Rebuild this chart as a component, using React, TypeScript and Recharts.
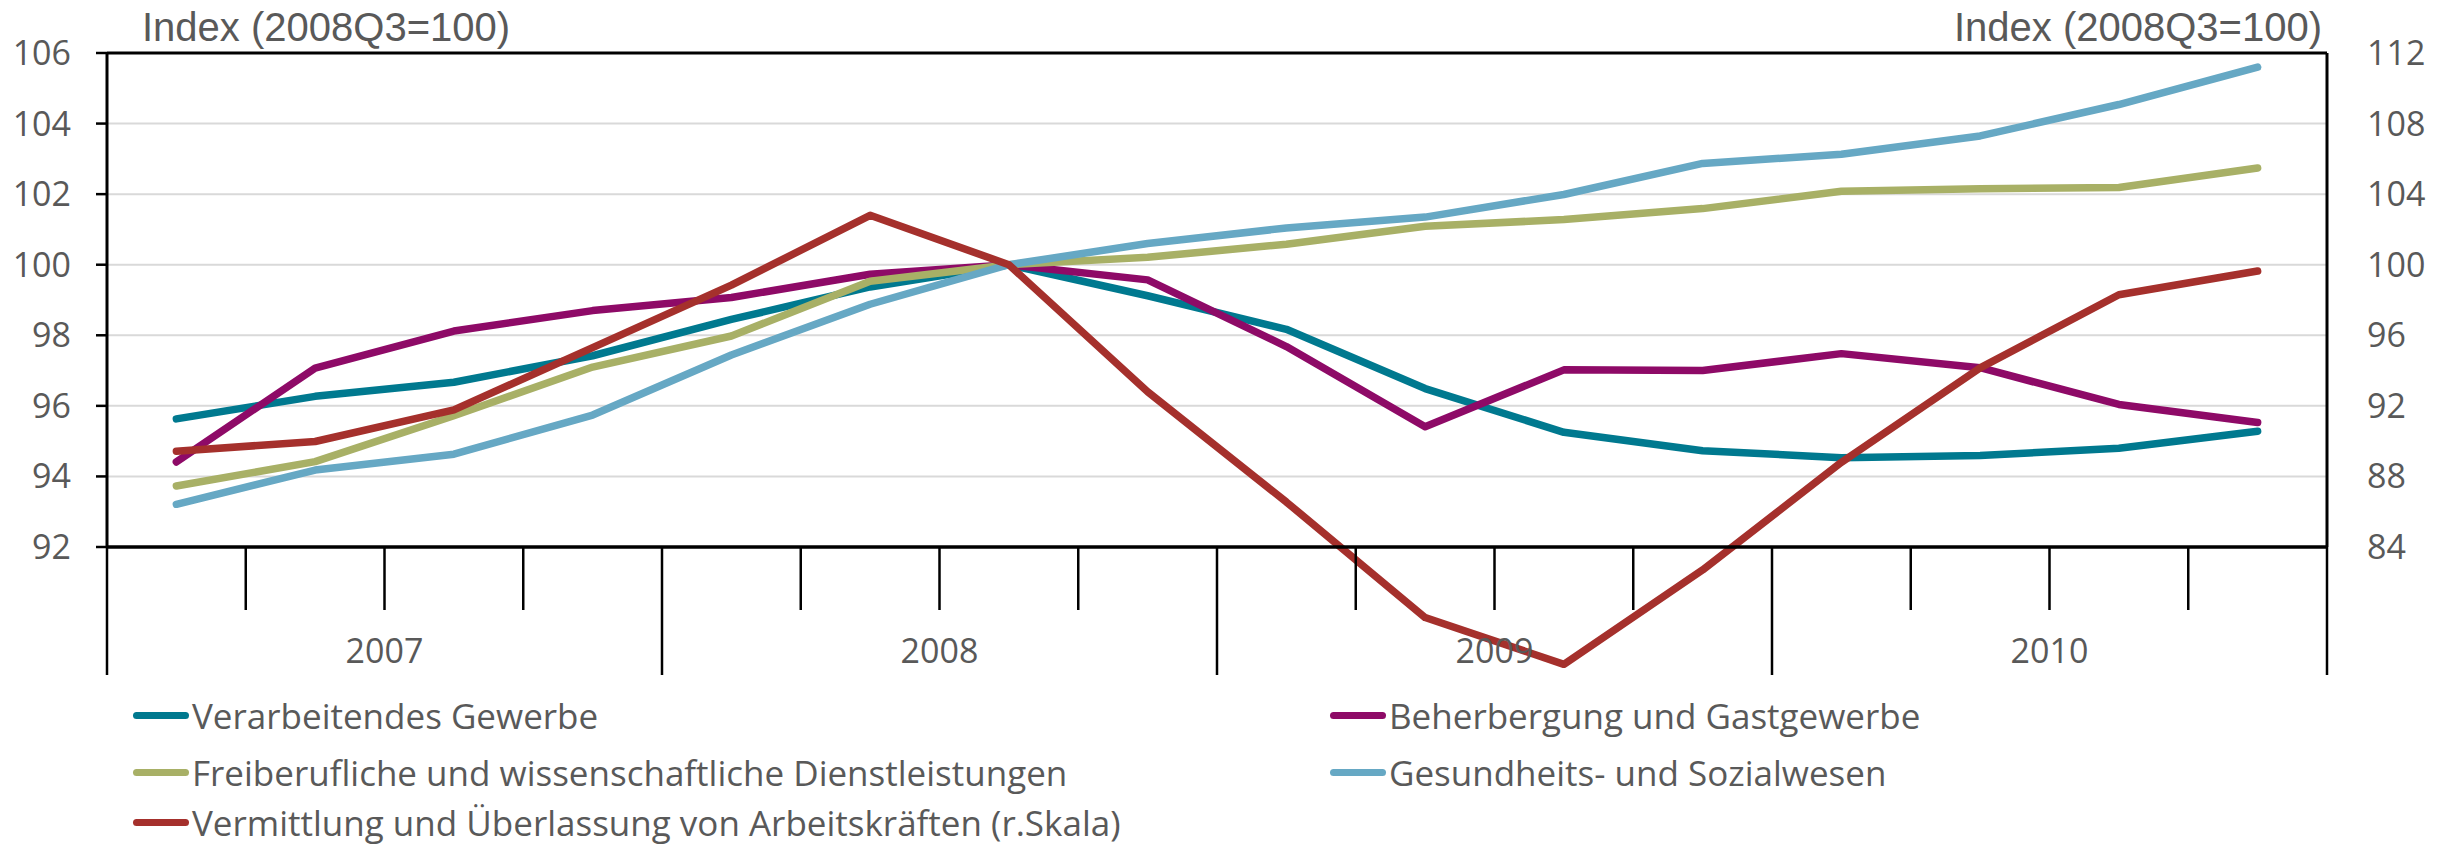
import React from 'react';
import { LineChart, Line, XAxis, YAxis, CartesianGrid, ReferenceLine, Legend } from 'recharts';

const quarters = [
  '2007Q1', '2007Q2', '2007Q3', '2007Q4',
  '2008Q1', '2008Q2', '2008Q3', '2008Q4',
  '2009Q1', '2009Q2', '2009Q3', '2009Q4',
  '2010Q1', '2010Q2', '2010Q3', '2010Q4',
];
const years = ['2007', '2008', '2009', '2010'];

const verarbeitendes = [95.63, 96.27, 96.67, 97.42, 98.45, 99.37, 100, 99.12, 98.17, 96.49, 95.25, 94.73, 94.53, 94.59, 94.8, 95.28];
const beherbergung = [94.41, 97.07, 98.12, 98.7, 99.07, 99.73, 100, 99.57, 97.68, 95.41, 97.02, 97.0, 97.48, 97.08, 96.04, 95.53];
const freiberufliche = [93.73, 94.42, 95.72, 97.1, 97.98, 99.53, 100, 100.21, 100.58, 101.09, 101.28, 101.59, 102.08, 102.15, 102.19, 102.74];
const gesundheit = [93.21, 94.18, 94.63, 95.74, 97.44, 98.88, 100, 100.6, 101.04, 101.35, 101.99, 102.87, 103.13, 103.65, 104.54, 105.6];
const vermittlung = [89.43, 89.98, 91.77, 95.3, 98.84, 102.8, 100, 92.8, 86.55, 80.0, 77.35, 82.7, 88.8, 94.15, 98.3, 99.64];

const leftTicks = [92, 94, 96, 98, 100, 102, 104, 106];
const rightTicks = [84, 88, 92, 96, 100, 104, 108, 112];
const axisTitle = 'Index (2008Q3=100)';

const series = [
  { key: 'verarbeitendes', name: 'Verarbeitendes Gewerbe', color: '#00798F', axis: 'left' },
  { key: 'beherbergung', name: 'Beherbergung und Gastgewerbe', color: '#8E0A67', axis: 'left' },
  { key: 'freiberufliche', name: 'Freiberufliche und wissenschaftliche Dienstleistungen', color: '#A8B066', axis: 'left' },
  { key: 'gesundheit', name: 'Gesundheits- und Sozialwesen', color: '#66A8C4', axis: 'left' },
  { key: 'vermittlung', name: 'Vermittlung und Überlassung von Arbeitskräften (r.Skala)', color: '#A5302C', axis: 'right' },
];

const data = quarters.map((q, i) => ({
  q,
  t: i + 0.5,
  verarbeitendes: verarbeitendes[i],
  beherbergung: beherbergung[i],
  freiberufliche: freiberufliche[i],
  gesundheit: gesundheit[i],
  vermittlung: vermittlung[i],
}));

const boundaries = Array.from({ length: quarters.length + 1 }, (_, k) => k);

const FONT = "'Open Sans', sans-serif";
const GRAY = '#595959';

const QuarterTick = (props: any) => {
  const { x, y, payload } = props;
  const k = payload.value;
  const isYear = k % 4 === 0;
  const len = isYear ? 128 : 63;
  return (
    <g>
      <line x1={x} y1={y} x2={x} y2={y + len} stroke="#000" strokeWidth={2.5} />
      {k % 4 === 2 ? (
        <text x={x} y={y + 116} textAnchor="middle" fill={GRAY} fontSize={34} fontFamily={FONT}>
          {years[(k - 2) / 4]}
        </text>
      ) : null}
    </g>
  );
};

const LeftTitle = (props: any) => {
  const { viewBox } = props;
  return (
    <text x={viewBox.x + viewBox.width + 35} y={viewBox.y - 12} textAnchor="start" fill={GRAY} fontSize={40} fontFamily="'Liberation Sans', Arial, sans-serif">
      {axisTitle}
    </text>
  );
};

const RightTitle = (props: any) => {
  const { viewBox } = props;
  return (
    <text x={viewBox.x - 5} y={viewBox.y - 12} textAnchor="end" fill={GRAY} fontSize={40} fontFamily="'Liberation Sans', Arial, sans-serif">
      {axisTitle}
    </text>
  );
};

const LegendContent = () => (
  <div
    style={{
      display: 'grid',
      gridTemplateColumns: '1197px 1fr',
      gridTemplateRows: '57px 56px 44px',
      paddingLeft: 133,
      fontFamily: FONT,
      fontSize: 35,
      lineHeight: 1,
      color: GRAY,
    }}
  >
    {series.map((s) => (
      <div key={s.key} style={{ display: 'flex', alignItems: 'center', whiteSpace: 'nowrap' }}>
        <span
          style={{
            display: 'inline-block',
            width: 56,
            height: 7,
            borderRadius: 4,
            background: s.color,
            marginRight: 3,
          }}
        />
        <span style={{ lineHeight: 1 }}>{s.name}</span>
      </div>
    ))}
  </div>
);

export default function App() {
  return (
    <div style={{ position: 'absolute', left: 0, top: 0, width: 2453, height: 849, background: '#fff', overflow: 'hidden' }}>
      <style>{'.recharts-line, .recharts-line *, .recharts-line-curve { clip-path: none !important; }'}</style>
      <LineChart width={2453} height={849} data={data} margin={{ top: 53, right: 0, bottom: 0, left: 0 }}>
        <CartesianGrid yAxisId="left" horizontal vertical={false} stroke="#D9D9D9" strokeWidth={2} />
        <XAxis
          dataKey="t"
          type="number"
          domain={[0, quarters.length]}
          ticks={boundaries}
          interval={0}
          height={302}
          tickSize={0}
          tickMargin={0}
          tickLine={false}
          axisLine={{ stroke: '#000', strokeWidth: 3.5 }}
          tick={<QuarterTick />}
        />
        <YAxis
          yAxisId="left"
          orientation="left"
          width={107}
          domain={[92, 106]}
          ticks={leftTicks}
          interval={0}
          tickSize={11}
          tickMargin={25}
          axisLine={{ stroke: '#000', strokeWidth: 3 }}
          tickLine={{ stroke: '#000', strokeWidth: 2.5 }}
          tick={{ fill: GRAY, fontSize: 34, fontFamily: FONT }}
          label={<LeftTitle />}
        />
        <YAxis
          yAxisId="right"
          orientation="right"
          width={126}
          domain={[84, 112]}
          allowDataOverflow
          ticks={rightTicks}
          interval={0}
          tickSize={11}
          tickMargin={29}
          tickLine={false}
          axisLine={{ stroke: '#000', strokeWidth: 3 }}
          tick={{ fill: GRAY, fontSize: 34, fontFamily: FONT }}
          label={<RightTitle />}
        />
        <ReferenceLine yAxisId="left" y={106} stroke="#000" strokeWidth={3} />
        {series.map((s) => (
          <Line
            key={s.key}
            yAxisId={s.axis}
            dataKey={s.key}
            name={s.name}
            type="linear"
            stroke={s.color}
            strokeWidth={7.5}
            strokeLinecap="round"
            strokeLinejoin="round"
            dot={false}
            activeDot={false}
            isAnimationActive={false}
          />
        ))}
        <Legend
          layout="horizontal"
          verticalAlign="middle"
          align="center"
          wrapperStyle={{ top: 687, left: 0, width: 2453 }}
          content={<LegendContent />}
        />
      </LineChart>
    </div>
  );
}
